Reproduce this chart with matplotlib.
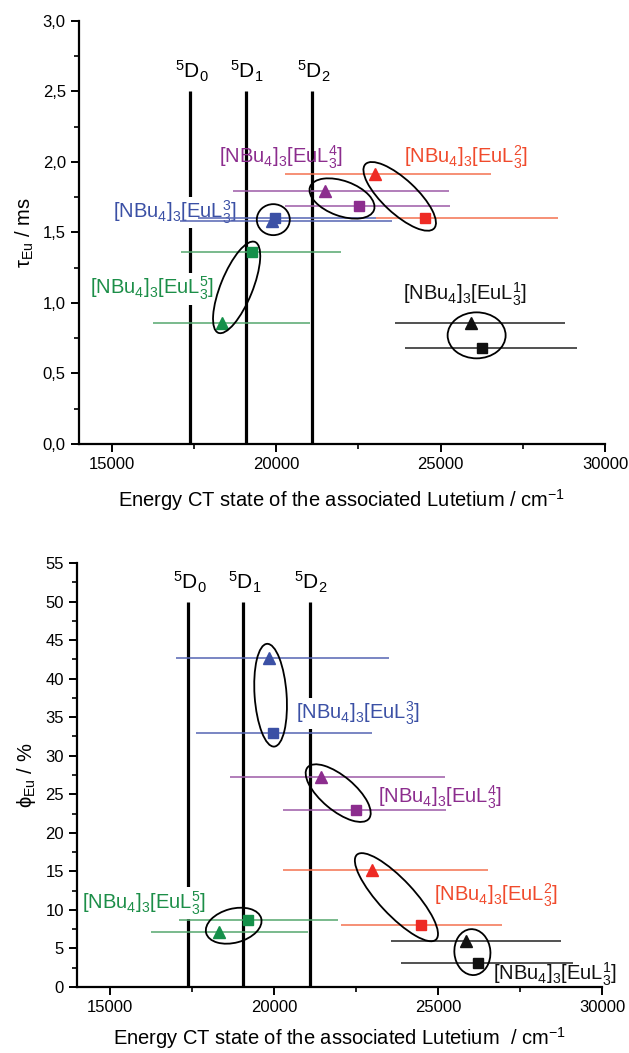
import math

import matplotlib
matplotlib.use("Agg")
import matplotlib.pyplot as plt
from matplotlib.patches import Ellipse
from matplotlib.ticker import FuncFormatter, MultipleLocator

plt.rcParams["font.family"] = ["Liberation Sans", "DejaVu Sans"]
plt.rcParams["mathtext.fontset"] = "custom"
plt.rcParams["mathtext.rm"] = "Liberation Sans"
plt.rcParams["mathtext.it"] = "Liberation Sans:italic"

# compounds [NBu4]3[EuL^n_3], n = 1..5
ligands = ["1", "2", "3", "4", "5"]
marker_colors = ["#111111", "#ee2a24", "#3b50a5", "#8c2d8e", "#15904a"]
line_colors = ["#222222", "#f4714f", "#5565b3", "#9c5aa7", "#55a76e"]
text_colors = ["#111111", "#f04a2c", "#3b50a5", "#8c2d8e", "#1c8e48"]

# Eu 5D levels (cm-1)
level_names = ["$^5$D$_0$", "$^5$D$_1$", "$^5$D$_2$"]
level_x = [17390, 19065, 21090]

# top panel: lifetime tau_Eu (ms)
tau_tri_x = [25920, 23000, 19860, 21470, 18340]
tau_tri_y = [0.86, 1.91, 1.58, 1.79, 0.86]
tau_tri_lo = [23610, 20270, 17080, 18670, 16260]
tau_tri_hi = [28780, 26530, 23510, 25250, 21040]
tau_sq_x = [26270, 24510, 19960, 22530, 19250]
tau_sq_y = [0.68, 1.60, 1.60, 1.69, 1.36]
tau_sq_lo = [23910, 23020, 17630, 20270, 17110]
tau_sq_hi = [29140, 28570, 23020, 25290, 21980]

# bottom panel: quantum yield phi_Eu (%)
phi_tri_x = [25870, 22980, 19840, 21430, 18330]
phi_tri_y = [5.93, 15.2, 42.7, 27.3, 7.15]
phi_tri_lo = [23570, 20270, 17020, 18670, 16260]
phi_tri_hi = [28750, 26530, 23510, 25220, 21040]
phi_sq_x = [26230, 24490, 19960, 22490, 19220]
phi_sq_y = [3.12, 8.1, 33.0, 23.0, 8.75]
phi_sq_lo = [23880, 22040, 17630, 20290, 17110]
phi_sq_hi = [29120, 26960, 23000, 25260, 21960]


def label_text(n):
    return "[NBu$_4$]$_3$[EuL$^{%s}_{3}$]" % n


def setup_axis(ax, ymax, ymajor, fmt, ylabel, xlabel, xpad):
    ax.set_xlim(14000, 30000)
    ax.set_ylim(0, ymax)
    for s in ("top", "right"):
        ax.spines[s].set_visible(False)
    for s in ("left", "bottom"):
        ax.spines[s].set_linewidth(1.6)
    ax.xaxis.set_major_locator(MultipleLocator(5000))
    ax.xaxis.set_minor_locator(MultipleLocator(2500))
    ax.yaxis.set_major_locator(MultipleLocator(ymajor))
    ax.yaxis.set_minor_locator(MultipleLocator(ymajor / 2))
    ax.yaxis.set_major_formatter(FuncFormatter(fmt))
    ax.tick_params(which="major", direction="out", length=6, width=1.4, labelsize=12)
    ax.tick_params(which="minor", direction="out", length=3.5, width=1.2)
    ax.set_ylabel(ylabel, fontsize=14.5, labelpad=5)
    ax.set_xlabel(xlabel, fontsize=14.5, labelpad=xpad)


def draw_panel(ax, ytop, tri, sq, lab_pos, lab_box, ellipses):
    tri_x, tri_y, tri_lo, tri_hi = tri
    sq_x, sq_y, sq_lo, sq_hi = sq
    for name, x in zip(level_names, level_x):
        ax.plot([x, x], [0, ytop], color="black", lw=2.3, zorder=2,
                solid_capstyle="butt")
        ax.annotate(name, (x, ytop), xytext=(1, 5), textcoords="offset points",
                    ha="center", va="bottom", fontsize=15)
    for i in range(len(ligands)):
        ax.hlines(tri_y[i], tri_lo[i], tri_hi[i], color=line_colors[i], lw=1.1, zorder=4)
        ax.hlines(sq_y[i], sq_lo[i], sq_hi[i], color=line_colors[i], lw=1.1, zorder=4)
        ax.plot(tri_x[i], tri_y[i], "^", color=marker_colors[i], ms=8.5, zorder=5,
                clip_on=False)
        ax.plot(sq_x[i], sq_y[i], "s", color=marker_colors[i], ms=6.5, zorder=5,
                clip_on=False)
        kw = {}
        if lab_box[i]:
            kw["bbox"] = dict(facecolor="white", edgecolor="none", pad=1.5)
        ax.text(lab_pos[i][0], lab_pos[i][1], label_text(ligands[i]),
                color=text_colors[i], fontsize=14.5, ha="left", va="center",
                zorder=3, clip_on=False, **kw)

    # ellipses around each triangle/square pair (drawn in pixel space)
    fig = ax.figure
    for i, (w, h, ang) in enumerate(ellipses):
        p1 = ax.transData.transform((tri_x[i], tri_y[i]))
        p2 = ax.transData.transform((sq_x[i], sq_y[i]))
        cx = (p1[0] + p2[0]) / 2 / fig.dpi
        cy = (p1[1] + p2[1]) / 2 / fig.dpi
        e = Ellipse((cx, cy), w / 100, h / 100, angle=ang, fill=False,
                    edgecolor="black", lw=1.3, transform=fig.dpi_scale_trans,
                    zorder=6)
        fig.add_artist(e)


fig = plt.figure(figsize=(6.29, 10.53), dpi=100)
ax1 = fig.add_axes([79 / 629, 1 - 444 / 1053, (605 - 79) / 629, (444 - 20.7) / 1053])
ax2 = fig.add_axes([77 / 629, 1 - 987 / 1053, (602 - 77) / 629, (987 - 563) / 1053])

setup_axis(ax1, 3.0, 0.5, lambda v, p: f"{v:.1f}".replace(".", ","),
           "τ$_{\\mathrm{Eu}}$ / ms",
           "Energy CT state of the associated Lutetium / cm$^{-1}$", 11)
setup_axis(ax2, 55, 5, lambda v, p: f"{v:.0f}",
           "ϕ$_{\\mathrm{Eu}}$ / %",
           "Energy CT state of the associated Lutetium  / cm$^{-1}$", 7)

# label anchor (left, centre) per compound
tau_label_pos = [(23860, 1.06), (23890, 2.03), (15040, 1.64), (18270, 2.03), (14340, 1.10)]
tau_label_box = [False, False, True, False, True]
phi_label_pos = [(26680, 1.6), (24880, 11.9), (20670, 35.5), (23170, 24.6), (14160, 10.9)]
phi_label_box = [False, False, True, False, True]

# ellipse sizes: width px, height px, angle deg
tau_ell = [(58, 46, 0), (94, 34, -43), (33, 31, 0), (68, 35, -20), (98, 32, 68)]
phi_ell = [(46, 36, 95), (116, 35, -47), (103, 32, 94), (80, 34, -40), (57, 34, 15)]

draw_panel(ax1, 2.5, (tau_tri_x, tau_tri_y, tau_tri_lo, tau_tri_hi),
           (tau_sq_x, tau_sq_y, tau_sq_lo, tau_sq_hi),
           tau_label_pos, tau_label_box, tau_ell)
draw_panel(ax2, 50, (phi_tri_x, phi_tri_y, phi_tri_lo, phi_tri_hi),
           (phi_sq_x, phi_sq_y, phi_sq_lo, phi_sq_hi),
           phi_label_pos, phi_label_box, phi_ell)

fig.savefig("out.png", dpi=100)
